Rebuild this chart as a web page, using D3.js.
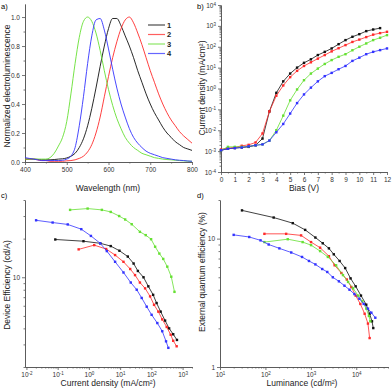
<!DOCTYPE html>
<html>
<head>
<meta charset="utf-8">
<script src="https://cdn.jsdelivr.net/npm/d3@7"></script>
<style>
body { margin: 0; background: #fff; }
svg { font-family: "Liberation Sans", Arial, sans-serif; }
.axis path, .axis line { stroke: #555; stroke-width: 0.8; }
.axis text { fill: #333; font-size: 6.5px; font-family: "Liberation Sans", Arial, sans-serif; }
.ttl { font-size: 8.5px; fill: #222; }
</style>
</head>
<body>
<svg id="chart" width="392" height="389"></svg>
<script>
// compounds 1-4
var names = ["1", "2", "3", "4"];
var colors = ["#111111", "#ff2a2a", "#66e033", "#3333ff"];

// a) electroluminescence spectra, 10 nm steps
var wl = [400,410,420,430,440,450,460,470,480,490,500,510,520,530,540,550,560,570,580,590,600,
          610,620,630,640,650,660,670,680,690,700,710,720,730,740,750,760,770,780,790,800];
var el1 = [.02,.02,.02,.018,.015,.015,.015,.017,.02,.022,.028,.04,.06,.10,.16,.25,.37,.51,.66,.80,.92,
           .99,.99,.94,.87,.80,.72,.63,.55,.47,.40,.34,.29,.24,.20,.17,.14,.12,.10,.09,.08];
var el2 = [.02,.02,.02,.015,.01,.01,.005,.005,.005,.005,.008,.01,.015,.025,.04,.07,.12,.20,.31,.45,.59,
           .72,.83,.92,.98,1.0,.96,.89,.81,.72,.63,.55,.47,.40,.34,.29,.25,.21,.18,.155,.13];
var el3 = [.02,.02,.02,.02,.02,.02,.03,.06,.11,.17,.28,.47,.68,.86,.97,1.0,.97,.89,.77,.63,.50,
           .39,.30,.23,.17,.13,.10,.08,.06,.05,.04,.03,.025,.02,.017,.015,.012,.01,.008,.006,.005];
var el4 = [.03,.025,.02,.015,.01,.01,.01,.01,.01,.012,.02,.04,.10,.25,.45,.68,.87,.98,.99,.91,.78,
           .64,.51,.40,.31,.23,.17,.13,.10,.075,.06,.05,.04,.03,.025,.02,.015,.012,.01,.007,.005];

// b) current density vs bias, 0.5 V steps
var bias = [0,0.5,1,1.5,2,2.5,3,3.5,4,4.5,5,5.5,6,6.5,7,7.5,8,8.5,9,9.5,10,10.5,11,11.5,12];
var j1 = [1.1e-3,1.3e-3,1.4e-3,1.5e-3,1.6e-3,1.9e-3,4e-3,8e-2,0.62,2.2,5.2,10,17,25,40,57,83,133,208,300,400,560,670,780];
var j2 = [1.2e-3,1.4e-3,1.5e-3,1.8e-3,2e-3,2.6e-3,7e-3,8e-2,0.45,1.4,3.5,7,12,18,27,40,60,85,120,170,220,290,380,450,520];
var j3 = [1.1e-3,1.6e-3,1.6e-3,1.6e-3,1.7e-3,1.9e-3,2.1e-3,3.2e-3,1.0e-2,5e-2,0.27,0.9,2.5,5.2,9,15,23,33,44,68,100,144,208,270,360];
var j4 = [1.1e-3,1.3e-3,1.4e-3,1.5e-3,1.7e-3,1.9e-3,2.1e-3,3.2e-3,8e-3,2e-2,6.3e-2,0.2,0.52,1.1,2.2,3.9,5.6,8.4,12,21,30,44,57,69,83];

// c) device efficiency (cd/A) vs current density (mA/cm2)
var cj1 = [0.084,0.67,2.3,5.0,9.5,17.6,27,37,56,80,114,147,198,275,370,500,660];
var ce1 = [19.7,19.1,18.4,17.5,16.1,14.5,12.8,11.2,10,8.5,7.3,6.3,5.4,4.6,4.0,3.6,3.25];
var cj2 = [0.47,1.48,3.57,6.9,12.8,21,30,43,63,91,122,167,223,310,415,500,645];
var ce2 = [16.5,17.8,16.6,14.9,13.2,11.6,10.4,9.1,8.2,7.1,6.1,5.4,4.7,4.1,3.57,3.2,2.9];
var cj3 = [0.25,0.91,2.6,5.0,9.3,14.5,23.5,43,66,98,132,180,240,323,434,550];
var ce3 = [33.5,34.3,33.5,32.3,30.0,28.2,25.9,22.6,21.3,19.8,17.3,15.3,13.9,12.1,10.1,7.7];
var cj4 = [0.0204,0.069,0.21,0.57,1.16,2.3,3.75,6.9,12.8,21.9,34,49,71,102,155,223,295,350];
var ce4 = [27.8,26.7,25.8,23.7,21.0,18.4,16.0,13.2,10.9,9.1,8.0,6.9,5.9,5.1,4.4,3.8,3.17,2.82];

// d) EQE (%) vs luminance (cd/m2)
var lum1 = [30.5,152,400,750,1260,1830,2500,3200,4300,5700,7500,9700,12700,16600,19700,22200,23700];
var eqe1 = [16.6,14.6,13.2,11.7,10.2,9.2,8.4,7.55,6.7,5.9,4.9,4.25,3.6,3.06,2.6,2.27,2.01];
var lum2 = [95,286,610,1010,1600,2500,3340,4700,6200,7800,9700,12300,15300,18100,19700];
var eqe2 = [10.9,10.9,10.6,9.4,8.5,7.3,6.2,5.4,4.8,4.2,3.6,3.1,2.6,2.18,1.68];
var lum3 = [95,310,660,1010,1600,2370,3600,5100,6600,8500,11000,13600,16600,19000,20400];
var eqe3 = [9.4,9.9,9.4,8.9,8.0,7.2,6.2,5.2,4.6,4.1,3.6,3.25,2.85,2.5,2.27];
var lum4 = [20,44,78,118,203,370,640,910,1260,1780,2300,3050,4150,5500,7100,9100,11700,14600,18100,21500,26300];
var eqe4 = [10.7,10.3,9.7,9.0,8.4,7.8,7.2,6.7,6.3,5.8,5.5,5.0,4.65,4.3,4.0,3.7,3.4,3.1,2.85,2.65,2.42];

var svg = d3.select("#chart");

function zip(xs, ys) { return ys.map(function(v, i) { return [xs[i], v]; }); }

// minor ticks 2..9 of every decade inside [lo, hi]
function minorLog(lo, hi) {
  var t = [];
  for (var e = Math.floor(Math.log10(lo)); e <= Math.ceil(Math.log10(hi)); e++)
    for (var m = 2; m <= 9; m++) {
      var v = m * Math.pow(10, e);
      if (v >= lo * 0.999 && v <= hi * 1.001) t.push(v);
    }
  return t;
}

// write "10" with a raised exponent into every tick label
function powLabels(sel) {
  sel.selectAll(".tick text").each(function(d) {
    var e = Math.round(Math.log10(d));
    var t = d3.select(this).text("10");
    t.append("tspan").attr("dy", "-0.45em").style("font-size", "4.5px").text(e);
  });
}

function axes(g, x, y, h, o) {
  g.append("g").attr("class", "axis").attr("transform", "translate(0," + h + ")")
   .call(d3.axisBottom(x).tickValues(o.xMinor).tickSize(1.5).tickSizeOuter(0).tickFormat(""));
  var xa = g.append("g").attr("class", "axis").attr("transform", "translate(0," + h + ")")
   .call(d3.axisBottom(x).tickValues(o.xMajor).tickSize(3).tickSizeOuter(0).tickPadding(2).tickFormat(o.xFmt || null));
  g.append("g").attr("class", "axis")
   .call(d3.axisLeft(y).tickValues(o.yMinor).tickSize(1.5).tickSizeOuter(0).tickFormat(""));
  var ya = g.append("g").attr("class", "axis")
   .call(d3.axisLeft(y).tickValues(o.yMajor).tickSize(3).tickSizeOuter(0).tickPadding(2).tickFormat(o.yFmt || null));
  if (o.xPow) powLabels(xa);
  if (o.yPow) powLabels(ya);
}

function series(g, x, y, data, color, marks) {
  g.append("path").datum(data)
   .attr("fill", "none").attr("stroke", color).attr("stroke-width", marks ? 0.8 : 0.9)
   .attr("d", d3.line().x(function(d) { return x(d[0]); }).y(function(d) { return y(d[1]); })
     .curve(marks ? d3.curveLinear : d3.curveMonotoneX));
  if (!marks) return;
  g.selectAll(null).data(data).enter().append("rect")
   .attr("x", function(d) { return x(d[0]) - 1.2; })
   .attr("y", function(d) { return y(d[1]) - 1.2; })
   .attr("width", 2.4).attr("height", 2.4)
   .attr("fill", color);
}

function title(x, y, txt, rot) {
  var t = svg.append("text").attr("class", "ttl").attr("text-anchor", "middle");
  if (rot) t.attr("transform", "translate(" + x + "," + y + ")rotate(-90)");
  else t.attr("x", x).attr("y", y);
  t.text(txt);
}

// ---------- a) ----------
var ga = svg.append("g").attr("transform", "translate(25,4)");
var xa = d3.scaleLinear().domain([400, 800]).range([0, 167]);
var ya = d3.scaleLinear().domain([0, 1.09]).range([158, 0]);
axes(ga, xa, ya, 158, {
  xMajor: [400, 500, 600, 700, 800], xMinor: [450, 550, 650, 750],
  yMajor: [0, 0.2, 0.4, 0.6, 0.8, 1.0], yMinor: [0.1, 0.3, 0.5, 0.7, 0.9],
  yFmt: d3.format(".1f")
});
[el1, el2, el3, el4].forEach(function(s, i) { series(ga, xa, ya, zip(wl, s), colors[i], false); });

// legend
names.forEach(function(n, i) {
  var ly = 25 + i * 9.5;
  svg.append("line").attr("x1", 148).attr("x2", 165).attr("y1", ly).attr("y2", ly)
     .attr("stroke", colors[i]).attr("stroke-width", 1.2).attr("opacity", 0.75);
  svg.append("text").attr("x", 167).attr("y", ly + 2.5).attr("font-size", 7.5)
     .attr("font-weight", "bold").attr("fill", "#222").text(n);
});
title(108, 191, "Wavelength (nm)");
title(10, 86, "Normalized electroluminescence", true);
svg.append("text").attr("x", 1).attr("y", 9).attr("font-size", 7.5).text("a)");

// ---------- b) ----------
var gb = svg.append("g").attr("transform", "translate(221,5)");
var xb = d3.scaleLinear().domain([0, 12]).range([0, 166]);
var yb = d3.scaleLog().domain([1e-4, 1e4]).range([167, 0]);
axes(gb, xb, yb, 167, {
  xMajor: d3.range(0, 13), xMinor: d3.range(0.5, 12, 1),
  yMajor: [1e-4,1e-3,1e-2,1e-1,1,10,100,1e3,1e4], yMinor: minorLog(1e-4, 1e4),
  yPow: true
});
[j1, j2, j3, j4].forEach(function(s, i) { series(gb, xb, yb, zip(bias, s), colors[i], true); });
title(304, 191, "Bias (V)");
title(205, 88, "Current density (mA/cm²)", true);
svg.append("text").attr("x", 197).attr("y", 9).attr("font-size", 7.5).text("b)");

// ---------- c) ----------
var gc = svg.append("g").attr("transform", "translate(25,200)");
var xc = d3.scaleLog().domain([0.009, 2000]).range([0, 167]);
var yc = d3.scaleLog().domain([2, 40]).range([167, 0]);
axes(gc, xc, yc, 167, {
  xMajor: [1e-2,1e-1,1,10,100,1e3], xMinor: minorLog(0.01, 2000),
  yMajor: [10], yMinor: minorLog(2, 40),
  xPow: true, yFmt: d3.format("d")
});
[[cj1, ce1], [cj2, ce2], [cj3, ce3], [cj4, ce4]].forEach(function(s, i) {
  series(gc, xc, yc, zip(s[0], s[1]), colors[i], true);
});
title(108, 386, "Current density (mA/cm²)");
title(10, 285, "Device Efficiency (cd/A)", true);
svg.append("text").attr("x", 1).attr("y", 198).attr("font-size", 7.5).text("c)");

// ---------- d) ----------
var gd = svg.append("g").attr("transform", "translate(220,200)");
var xd = d3.scaleLog().domain([10, 50000]).range([0, 168]);
var yd = d3.scaleLog().domain([1, 20]).range([167, 0]);
axes(gd, xd, yd, 167, {
  xMajor: [10, 100, 1e3, 1e4], xMinor: minorLog(10, 50000),
  yMajor: [1, 10], yMinor: minorLog(1, 20),
  xPow: true, yFmt: d3.format("d")
});
[[lum1, eqe1], [lum2, eqe2], [lum3, eqe3], [lum4, eqe4]].forEach(function(s, i) {
  series(gd, xd, yd, zip(s[0], s[1]), colors[i], true);
});
title(302, 386, "Luminance (cd/m²)");
title(205, 272, "External quantum efficiency (%)", true);
svg.append("text").attr("x", 197).attr("y", 198).attr("font-size", 7.5).text("d)");
</script>
</body>
</html>
